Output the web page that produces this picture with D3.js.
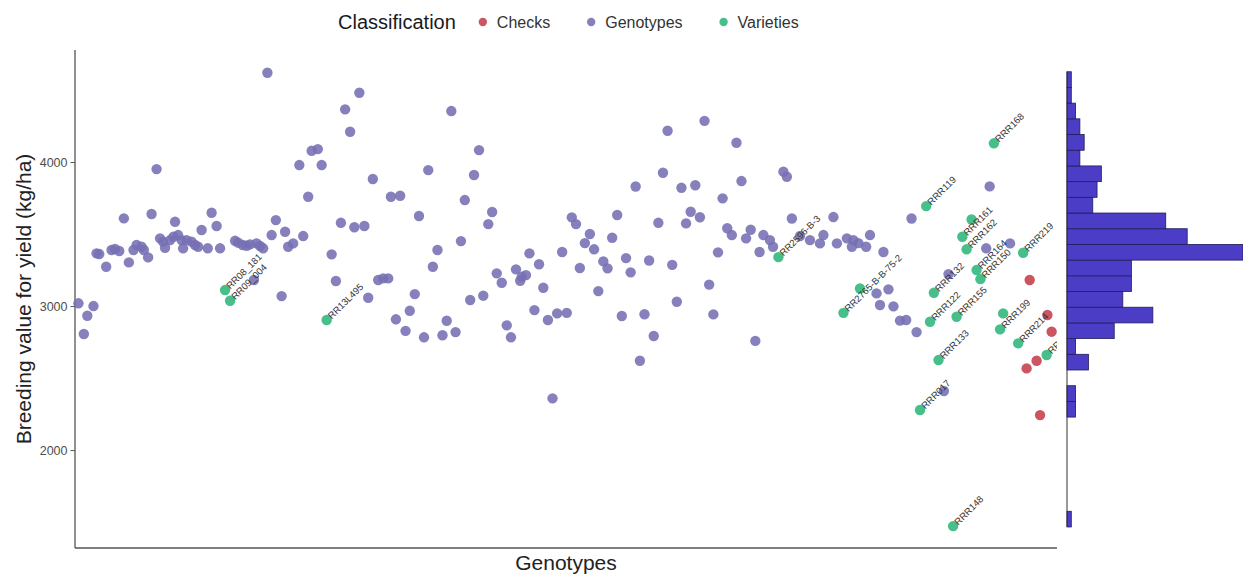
<!DOCTYPE html>
<html>
<head>
<meta charset="utf-8">
<script src="https://cdn.jsdelivr.net/npm/d3@7"></script>
<style>
  body { margin: 0; background: #fff; }
  svg { display: block; font-family: "Liberation Sans", Arial, sans-serif; }
</style>
</head>
<body>
<svg width="1243" height="577"></svg>
<script>
// genotype order along x and breeding value (kg/ha)
var genoX = [0.3,1.7,2.6,4.2,5.0,5.7,7.5,8.9,9.8,10.9,
  12.1,13.4,14.6,15.4,16.7,17.3,18.4,19.3,20.6,21.5,
  22.3,22.8,24.1,25.0,25.4,26.2,27.1,27.5,28.4,29.7,
  30.6,31.4,32.3,33.9,34.9,36.2,37.1,41.0,41.8,43.0,
  44.0,44.9,45.9,46.6,47.5,48.3,49.4,50.5,51.6,53.1,
  54.0,54.8,56.1,57.7,58.7,60.0,60.9,62.5,63.5,66.1,
  67.2,68.5,69.6,70.9,72.0,73.3,74.6,75.6,76.8,78.2,
  79.5,80.8,81.5,82.8,83.9,85.3,86.4,87.7,88.8,90.1,
  91.2,92.4,93.6,94.9,96.0,97.2,98.3,99.7,100.7,102.1,
  103.1,104.4,105.5,106.8,107.8,109.0,110.3,111.6,112.7,114.0,
  115.1,115.5,116.6,117.5,118.8,120.0,121.1,122.3,123.5,124.7,
  126.0,127.2,128.5,129.6,130.6,131.9,133.2,134.3,135.4,136.7,
  137.8,139.0,140.3,141.5,142.6,143.8,145.1,146.2,147.4,148.6,
  149.8,151.0,152.2,153.4,154.6,155.8,157.0,158.2,159.4,160.6,
  161.8,163.0,164.2,165.3,166.5,167.7,168.9,170.1,171.3,172.6,
  173.8,175.0,176.2,177.3,178.3,180.0,180.8,183.5,184.4,185.7,
  187.8,190.4,193.0,193.9,196.5,197.4,200.0,201.3,201.7,203.0,
  205.0,206.0,207.7,208.6,209.5,210.8,212.1,213.8,215.4,216.8,
  218.1,225.2,226.4,236.2,237.1,242.4];
var genoY = [3019,2806,2933,3000,3366,3361,3273,3389,3396,3382,
  3609,3303,3389,3424,3412,3389,3338,3639,3951,3470,
  3447,3405,3458,3481,3585,3493,3458,3401,3458,3447,
  3424,3412,3528,3401,3648,3556,3401,3453,3440,3424,
  3419,3428,3181,3435,3417,3401,4620,3493,3597,3069,
  3516,3412,3435,3979,3486,3759,4078,4090,3979,3359,
  3174,3578,4366,4210,3547,4481,3556,3058,3882,3181,
  3192,3192,3759,2908,3766,2828,2967,3083,3625,2783,
  3944,3273,3389,2797,2898,4354,2819,3451,3736,3042,
  3910,4083,3072,3569,3653,3227,3162,2866,2783,3255,
  3176,3203,3215,3366,2972,3290,3127,2903,2359,2949,
  3375,2953,3616,3569,3264,3437,3500,3394,3104,3310,
  3262,3474,3632,2931,3333,3234,3830,2620,2943,3316,
  2792,3578,3926,4217,3286,3030,3821,3574,3655,3839,
  3617,4286,3149,2942,3373,3748,3540,3493,4134,3868,
  3470,3530,2758,3375,3493,3458,3412,3933,3898,3608,
  3486,3458,3435,3493,3618,3435,3470,3412,3458,3437,
  3412,3493,3088,3007,3375,3116,2998,2899,2903,3608,
  2819,2410,3222,3401,3831,3435];

// released varieties, with their labels ('' = no label shown)
var varX = [38.4,39.7,64.8,182.2,203.4,199.1,220.6,238.2,232.4,230.0,
  231.1,233.7,234.7,245.8,222.6,221.6,228.5,240.6,239.8,244.5,
  251.9,223.8,219.0,227.6];
var varY = [3111,3037,2903,3340,3122,2953,3694,4130,3601,3481,
  3394,3250,3187,3370,3092,2891,2926,2949,2838,2741,
  2660,2625,2278,1472];
var varLabel = ['RR08_181','RR09_004','RR13L495','RR2596-B-3','','RR2765-B-B-75-2','RRR119','RRR168','','RRR161',
  'RRR162','RRR164','RRR150','RRR219','RRR132','RRR122','RRR155','','RRR199','RRR214',
  'RRR157','RRR133','RRR017','RRR148'];

// checks
var checkX = [247.5,252.1,253.2,246.7,249.3,250.2];
var checkY = [3181,2938,2822,2567,2620,2243];

// marginal histogram: bins from bottom, count per bin
var binStart = 1466;
var binWidth = 109;
var binCounts = [1,0,0,0,0,0,0,2,2,0,5,2,11,20,13,15,15,41,28,23,6,7,8,3,4,3,2,1,1];

var yTicks = [2000, 3000, 4000];
var classes = ['Checks', 'Genotypes', 'Varieties'];
var classColors = ['#c43d4b', '#7570b3', '#2db67a'];

var svg = d3.select('svg');
var panel = {left: 75, right: 1057, top: 50, bottom: 548};

var x = d3.scaleLinear().domain([-0.6, 254.6]).range([panel.left, panel.right]);
var y = d3.scaleLinear().domain([1320, 4778]).range([panel.bottom, panel.top]);
var color = d3.scaleOrdinal().domain(classes).range(classColors);

// y axis ticks and labels
var yAxis = svg.append('g')
  .attr('transform', 'translate(' + panel.left + ',0)')
  .call(d3.axisLeft(y).tickValues(yTicks).tickFormat(d3.format('d')).tickSize(4.5).tickPadding(3));
yAxis.select('.domain').remove();
yAxis.selectAll('line').attr('stroke', '#555');
yAxis.selectAll('text')
  .attr('fill', '#4d4d4d')
  .style('font-size', '12.5px')
  .style('font-family', '"Liberation Sans", Arial, sans-serif');

// axis lines
svg.append('line')
  .attr('x1', panel.left).attr('x2', panel.left)
  .attr('y1', panel.top).attr('y2', panel.bottom)
  .attr('stroke', '#555').attr('stroke-width', 1.3);
svg.append('line')
  .attr('x1', panel.left).attr('x2', panel.right)
  .attr('y1', panel.bottom).attr('y2', panel.bottom)
  .attr('stroke', '#555').attr('stroke-width', 1.3);

// axis titles
svg.append('text')
  .attr('x', (panel.left + panel.right) / 2).attr('y', 570)
  .attr('text-anchor', 'middle')
  .attr('fill', '#222')
  .style('font-size', '21px')
  .text('Genotypes');
svg.append('text')
  .attr('transform', 'translate(31,' + ((panel.top + panel.bottom) / 2) + ') rotate(-90)')
  .attr('text-anchor', 'middle')
  .attr('fill', '#222')
  .style('font-size', '21px')
  .text('Breeding value for yield (kg/ha)');

// points
var pts = [];
genoX.forEach(function(d, i) { pts.push({x: d, v: genoY[i], c: 'Genotypes'}); });
varX.forEach(function(d, i) { pts.push({x: d, v: varY[i], c: 'Varieties', label: varLabel[i]}); });
checkX.forEach(function(d, i) { pts.push({x: d, v: checkY[i], c: 'Checks'}); });

svg.append('g').selectAll('circle')
  .data(pts)
  .join('circle')
  .attr('cx', function(d) { return x(d.x); })
  .attr('cy', function(d) { return y(d.v); })
  .attr('r', 5.2)
  .attr('fill', function(d) { return color(d.c); })
  .attr('fill-opacity', 0.88);

// labels for varieties, clipped to the panel
svg.append('clipPath').attr('id', 'panelClip')
  .append('rect')
  .attr('x', panel.left).attr('y', panel.top)
  .attr('width', panel.right - panel.left).attr('height', panel.bottom - panel.top);

svg.append('g').attr('clip-path', 'url(#panelClip)')
  .selectAll('text')
  .data(pts.filter(function(d) { return d.label; }))
  .join('text')
  .attr('transform', function(d) {
    return 'translate(' + x(d.x) + ',' + y(d.v) + ') rotate(-45)';
  })
  .attr('x', 4)
  .attr('dy', '0.35em')
  .attr('fill', '#333')
  .style('font-size', '9.5px')
  .text(function(d) { return d.label; });

// marginal histogram on the right
var xh = d3.scaleLinear().domain([0, 41]).range([1067, 1243]);
svg.append('g').selectAll('rect')
  .data(binCounts)
  .join('rect')
  .attr('x', xh(0))
  .attr('y', function(d, i) { return y(binStart + (i + 1) * binWidth); })
  .attr('width', function(d) { return xh(d) - xh(0); })
  .attr('height', function(d, i) { return y(binStart + i * binWidth) - y(binStart + (i + 1) * binWidth); })
  .attr('fill', '#4b3dc6')
  .attr('stroke', '#221c5c')
  .attr('stroke-width', 0.8);
svg.append('line')
  .attr('x1', xh(0)).attr('x2', xh(0))
  .attr('y1', y(binStart + binCounts.length * binWidth)).attr('y2', y(binStart))
  .attr('stroke', '#333').attr('stroke-width', 1);

// legend on top
var legend = svg.append('g');
var title = legend.append('text')
  .attr('x', 338).attr('y', 29)
  .attr('fill', '#1a1a1a')
  .style('font-size', '20px')
  .text('Classification');
var lx = 338 + title.node().getComputedTextLength() + 27;
classes.forEach(function(c) {
  legend.append('circle')
    .attr('cx', lx).attr('cy', 22).attr('r', 4.2)
    .attr('fill', color(c)).attr('fill-opacity', 0.88);
  var t = legend.append('text')
    .attr('x', lx + 14).attr('y', 28)
    .attr('fill', '#333')
    .style('font-size', '16px')
    .text(c);
  lx += 14 + t.node().getComputedTextLength() + 41;
});
</script>
</body>
</html>
